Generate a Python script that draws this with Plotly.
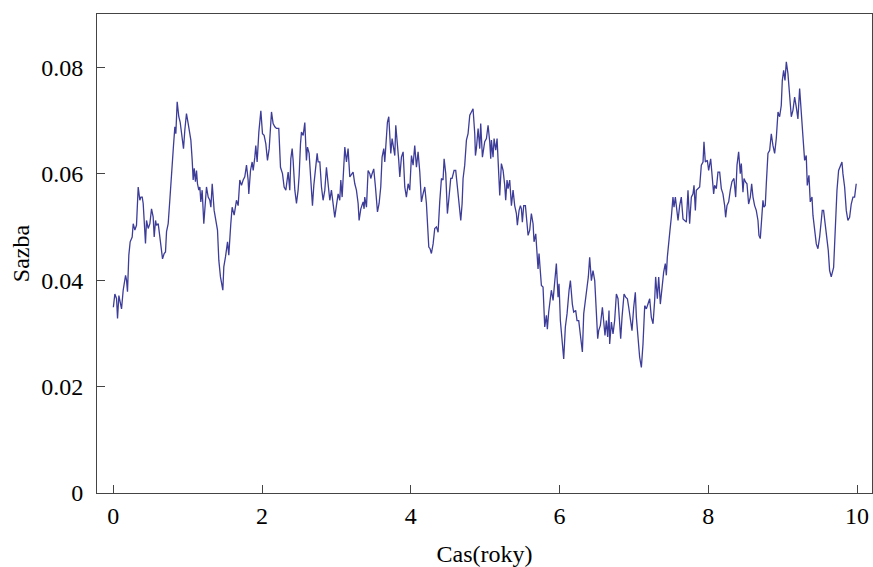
import plotly.graph_objects as go

cas = [
 0.000,0.020,0.043,0.056,0.074,0.096,0.110,0.132,0.146,0.164,0.177,0.190,0.208,0.226,0.253,0.267,0.289,0.311,
 0.334,0.356,0.370,0.388,0.401,0.415,0.432,0.446,0.468,0.491,0.513,0.535,0.549,0.567,0.580,0.603,0.625,0.648,
 0.661,0.683,0.701,0.715,0.737,0.759,0.782,0.795,0.809,0.827,0.840,0.858,0.880,0.898,0.916,0.943,0.961,0.983,
 1.006,1.042,1.060,1.073,1.087,1.104,1.118,1.131,1.149,1.163,1.176,1.194,1.216,1.230,1.252,1.275,1.297,1.311,
 1.329,1.355,1.373,1.400,1.418,1.440,1.472,1.485,1.508,1.535,1.552,1.566,1.579,1.597,1.624,
 1.655,1.678,1.700,1.723,1.745,1.767,1.790,1.812,1.821,1.844,1.866,1.880,1.902,1.915,1.933,1.956,1.983,2.005,
 2.027,2.050,2.072,2.095,2.126,2.148,2.171,2.193,2.224,2.247,2.274,2.296,2.319,2.350,2.372,2.386,2.404,2.417,
 2.440,2.462,2.484,2.498,2.516,2.529,2.552,2.574,2.596,2.610,2.632,2.655,2.677,2.695,2.717,2.740,2.753,2.776,
 2.798,2.820,2.843,2.865,2.887,2.910,2.932,2.955,2.977,2.999,3.022,3.044,3.058,3.076,3.112,3.134,3.156,3.179,
 3.201,3.223,3.246,3.268,3.291,3.304,
 3.327,3.358,3.371,3.380,3.403,3.425,3.448,3.461,3.479,3.501,3.524,3.551,3.573,3.595,3.613,3.636,3.649,3.672,
 3.685,3.703,3.716,3.730,3.748,3.761,3.784,3.797,3.815,3.837,3.851,3.873,3.896,3.918,3.940,3.963,3.985,4.008,
 4.030,4.052,4.075,4.097,4.120,4.142,4.164,4.187,4.209,4.223,4.241,4.258,4.276,4.299,4.321,4.344,4.366,4.388,
 4.411,4.433,4.447,4.469,4.491,4.509,4.536,4.554,4.581,4.603,4.626,4.644,4.671,4.689,4.702,4.724,4.747,4.769,
 4.792,4.814,4.836,4.859,4.868,4.881,4.904,4.926,4.939,4.962,4.984,
 4.993,5.016,5.038,5.060,5.074,5.083,5.105,5.119,5.141,5.159,5.172,5.195,5.217,5.240,5.262,5.275,5.293,5.307,
 5.329,5.352,5.374,5.396,5.419,5.432,5.455,5.473,5.486,5.499,5.517,5.540,5.562,5.576,5.598,5.620,5.643,5.656,
 5.679,5.697,5.710,5.723,5.741,5.755,5.777,5.800,5.822,5.835,5.853,5.876,5.889,5.912,5.934,5.956,5.979,5.992,
 6.010,6.037,6.055,6.077,6.100,6.127,6.145,6.171,6.189,6.216,6.234,6.257,6.279,6.306,6.324,6.351,6.369,6.386,
 6.404,6.427,6.449,6.472,6.494,6.512,6.525,6.548,6.575,6.593,6.610,6.628,6.646,6.664,
 6.673,6.696,6.718,6.740,6.763,6.785,6.808,6.821,6.839,6.866,6.888,6.911,6.929,6.955,6.973,6.996,7.018,7.032,
 7.054,7.076,7.099,7.121,7.144,7.166,7.188,7.211,7.233,7.256,7.278,7.291,7.314,7.332,7.354,7.377,7.399,7.421,
 7.435,7.448,7.466,7.484,7.502,7.524,7.538,7.556,7.569,7.592,7.614,7.636,7.659,7.681,7.704,7.726,7.748,7.771,
 7.793,7.807,7.825,7.838,7.860,7.883,7.905,7.928,7.941,7.959,7.986,8.004,8.031,8.049,8.071,8.084,8.107,8.129,
 8.152,8.174,8.196,8.219,8.232,8.250,8.273,8.295,8.317,8.344,
 8.367,8.385,8.407,8.429,8.443,8.465,8.479,8.501,8.519,8.541,8.564,8.582,8.600,8.622,8.644,8.667,8.680,8.698,
 8.716,8.734,8.747,8.765,8.779,8.801,8.824,8.846,8.868,8.891,8.913,8.936,8.958,8.980,8.994,9.012,9.030,9.048,
 9.070,9.092,9.115,9.137,9.160,9.182,9.204,9.227,9.249,9.272,9.294,9.316,9.330,9.352,9.370,9.393,9.406,9.428,
 9.451,9.473,9.496,9.518,9.531,9.549,9.572,9.594,9.612,9.630,9.652,9.684,9.697,9.711,9.729,9.751,9.773,9.796,
 9.809,9.832,9.854,9.876,9.899,9.921,9.944,9.966,9.988,
]

sazba = [
 0.0349,0.0374,0.0365,0.0328,0.0371,0.0356,0.0346,0.0381,0.0396,0.0409,0.0400,0.0378,0.0447,0.0472,0.0481,0.0506,0.0494,0.0503,
 0.0575,0.0550,0.0556,0.0556,0.0544,0.0494,0.0469,0.0512,0.0497,0.0506,0.0534,0.0519,0.0481,0.0512,0.0503,0.0506,0.0481,0.0456,
 0.0440,0.0450,0.0453,0.0491,0.0506,0.0550,0.0600,0.0641,0.0654,0.0688,0.0675,0.0735,0.0707,0.0697,0.0675,0.0647,0.0682,0.0713,
 0.0694,0.0663,0.0625,0.0588,0.0610,0.0585,0.0606,0.0581,0.0569,0.0575,0.0547,0.0569,0.0506,0.0528,0.0575,0.0556,0.0550,0.0537,
 0.0581,0.0531,0.0512,0.0494,0.0437,0.0406,0.0381,0.0425,0.0444,0.0472,0.0447,0.0494,0.0506,0.0537,0.0522,
 0.0550,0.0540,0.0588,0.0578,0.0588,0.0594,0.0616,0.0588,0.0562,0.0606,0.0622,0.0606,0.0631,0.0653,0.0622,0.0678,0.0718,0.0675,
 0.0672,0.0656,0.0625,0.0647,0.0716,0.0694,0.0688,0.0685,0.0685,0.0612,0.0600,0.0575,0.0569,0.0603,0.0569,0.0628,0.0647,0.0625,
 0.0569,0.0544,0.0569,0.0597,0.0656,0.0678,0.0672,0.0696,0.0625,0.0650,0.0638,0.0578,0.0540,0.0578,0.0603,0.0638,0.0622,0.0622,
 0.0575,0.0550,0.0569,0.0612,0.0581,0.0550,0.0569,0.0544,0.0518,0.0540,0.0562,0.0550,0.0588,0.0556,0.0650,0.0622,0.0647,0.0594,
 0.0600,0.0603,0.0581,0.0569,0.0544,0.0512,
 0.0534,0.0547,0.0534,0.0556,0.0537,0.0606,0.0600,0.0591,0.0600,0.0609,0.0575,0.0528,0.0544,0.0575,0.0631,0.0647,0.0622,0.0685,
 0.0697,0.0707,0.0681,0.0638,0.0666,0.0650,0.0634,0.0691,0.0666,0.0625,0.0594,0.0631,0.0641,0.0575,0.0556,0.0581,0.0569,0.0634,
 0.0616,0.0653,0.0612,0.0641,0.0603,0.0547,0.0562,0.0575,0.0544,0.0500,0.0462,0.0459,0.0450,0.0468,0.0497,0.0500,0.0490,0.0547,
 0.0591,0.0588,0.0628,0.0600,0.0525,0.0550,0.0591,0.0591,0.0606,0.0606,0.0569,0.0550,0.0512,0.0544,0.0591,0.0616,0.0663,0.0675,
 0.0710,0.0716,0.0722,0.0675,0.0634,0.0647,0.0685,0.0647,0.0694,0.0631,0.0656,
 0.0660,0.0666,0.0691,0.0660,0.0628,0.0663,0.0631,0.0666,0.0644,0.0666,0.0625,0.0559,0.0619,0.0606,0.0578,0.0550,0.0588,0.0572,
 0.0588,0.0540,0.0569,0.0540,0.0525,0.0503,0.0531,0.0540,0.0534,0.0509,0.0540,0.0540,0.0506,0.0484,0.0494,0.0525,0.0506,0.0472,
 0.0487,0.0453,0.0421,0.0450,0.0424,0.0390,0.0387,0.0312,0.0334,0.0308,0.0340,0.0362,0.0381,0.0362,0.0396,0.0431,0.0368,0.0393,
 0.0324,0.0274,0.0252,0.0312,0.0337,0.0381,0.0399,0.0355,0.0340,0.0343,0.0324,0.0324,0.0293,0.0265,0.0337,0.0374,0.0387,0.0406,
 0.0443,0.0399,0.0418,0.0399,0.0324,0.0290,0.0305,0.0315,0.0349,0.0318,0.0296,0.0324,0.0293,0.0343,
 0.0280,0.0321,0.0299,0.0324,0.0374,0.0365,0.0318,0.0290,0.0330,0.0374,0.0368,0.0365,0.0349,0.0318,0.0305,0.0349,0.0377,0.0330,
 0.0296,0.0255,0.0236,0.0280,0.0352,0.0346,0.0355,0.0365,0.0330,0.0318,0.0362,0.0406,0.0365,0.0406,0.0355,0.0387,0.0415,0.0431,
 0.0409,0.0443,0.0478,0.0494,0.0518,0.0556,0.0537,0.0556,0.0540,0.0512,0.0540,0.0556,0.0515,0.0512,0.0509,0.0569,0.0506,0.0556,
 0.0562,0.0578,0.0531,0.0569,0.0572,0.0575,0.0616,0.0622,0.0660,0.0622,0.0625,0.0606,0.0628,0.0594,0.0562,0.0578,0.0572,0.0603,
 0.0603,0.0572,0.0562,0.0540,0.0518,0.0540,0.0547,0.0569,0.0585,0.0591,
 0.0556,0.0616,0.0641,0.0600,0.0619,0.0565,0.0591,0.0584,0.0581,0.0543,0.0556,0.0581,0.0556,0.0540,0.0531,0.0512,0.0484,0.0478,
 0.0518,0.0550,0.0537,0.0540,0.0581,0.0638,0.0644,0.0675,0.0653,0.0638,0.0666,0.0716,0.0707,0.0728,0.0775,0.0794,0.0775,0.0810,
 0.0788,0.0744,0.0707,0.0719,0.0744,0.0725,0.0703,0.0760,0.0722,0.0669,0.0625,0.0634,0.0578,0.0597,0.0547,0.0556,0.0522,0.0493,
 0.0468,0.0459,0.0481,0.0512,0.0531,0.0531,0.0506,0.0475,0.0456,0.0418,0.0406,0.0424,0.0468,0.0518,0.0569,0.0606,0.0616,0.0622,
 0.0600,0.0575,0.0531,0.0512,0.0518,0.0543,0.0556,0.0556,0.0581,
]

x_ticks = [0, 2, 4, 6, 8, 10]
y_ticks = [0, 0.02, 0.04, 0.06, 0.08]
y_tick_text = ["0", "0.02", "0.04", "0.06", "0.08"]

FONT = "Liberation Serif, Times New Roman, serif"
FRAME = "#444444"

fig = go.Figure()
fig.add_trace(go.Scatter(x=cas, y=sazba, mode="lines",
                         line=dict(color="#3d3d99", width=1.3),
                         showlegend=False, hoverinfo="skip"))

fig.update_layout(
    width=873, height=567,
    margin=dict(l=97, r=1, t=14, b=74),
    paper_bgcolor="white", plot_bgcolor="white",
    font=dict(family=FONT, size=24, color="black"),
    xaxis=dict(range=[-0.22, 10.2], tickvals=x_ticks, ticks="inside", ticklen=8,
               tickcolor=FRAME, tickwidth=1, showline=True, linecolor=FRAME, linewidth=1,
               mirror=True, showgrid=False, zeroline=False, automargin=False,
               tickfont=dict(family=FONT, size=24), ticklabelstandoff=1,
               title=dict(text="Cas(roky)", font=dict(family=FONT, size=24), standoff=18)),
    yaxis=dict(range=[0, 0.09], tickvals=y_ticks, ticktext=y_tick_text, ticks="inside",
               ticklen=8, tickcolor=FRAME, tickwidth=1, showline=True, linecolor=FRAME,
               linewidth=1, mirror=True, showgrid=False, zeroline=False, automargin=False,
               tickfont=dict(family=FONT, size=24), ticklabelstandoff=8,
               title=dict(text="Sazba", font=dict(family=FONT, size=24), standoff=4)),
)

fig.write_html("out.html", config={"displayModeBar": False},
               post_script="document.body.style.margin='0';document.body.style.padding='0';")
